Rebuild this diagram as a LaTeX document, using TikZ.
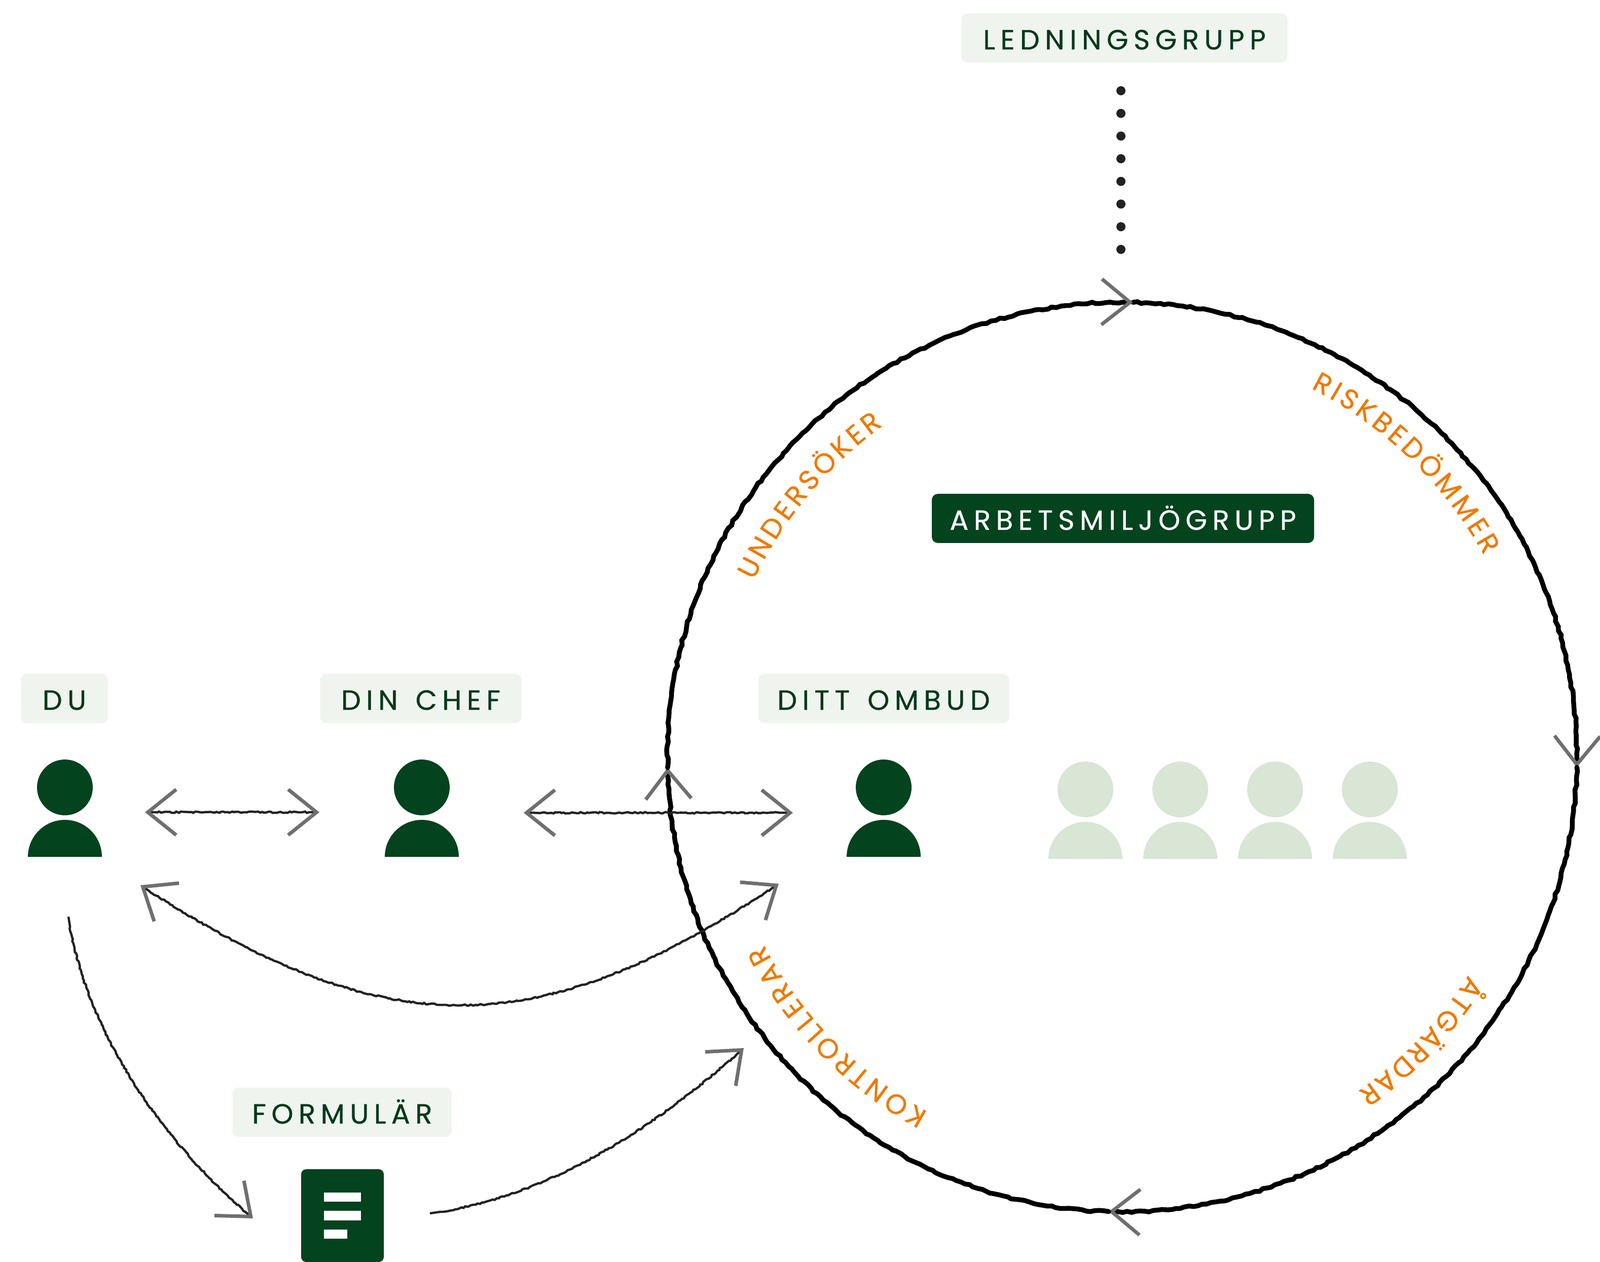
\documentclass[tikz,border=0pt]{standalone}
\usepackage{fontspec}
\newfontfamily\tagfont[LetterSpace=19,FakeBold=0.6,WordSpace=1.4]{Poppins}
\newfontfamily\ringfont[FakeBold=0.6]{Poppins}
\usetikzlibrary{%
  arrows.meta,%
  calc,%
  decorations.pathmorphing,% pencil lines
  decorations.text% ring words
}
\definecolor{darkgreen}{HTML}{03431E}
\definecolor{textgreen}{HTML}{06391A}
\definecolor{palegreen}{HTML}{EFF4EE}
\definecolor{fadegreen}{HTML}{D9E5D5}
\definecolor{ringorange}{HTML}{EE7A00}
\definecolor{pencil}{HTML}{222222}

\begin{document}
\begin{tikzpicture}[
  tag/.style={rectangle, minimum height=9.7mm, inner sep=0pt, text height=4.5mm, text depth=0pt, fill=palegreen, text=textgreen, rounded corners=1.2mm, font=\tagfont\fontsize{15.6}{17}\selectfont},
  darktag/.style={tag, fill=darkgreen, text=white},
  barb/.tip={Straight Barb[length=5.6mm, width=9mm, line width=0.7mm, color=pencil!65]},
  sketch/.style={draw=pencil, line width=0.45mm, decorate, decoration={random steps, segment length=1.2pt, amplitude=0.4pt, pre length=2mm, post length=2mm}},
  ring/.style={draw=black, line width=0.95mm, line cap=round, decorate, decoration={random steps, segment length=2.5pt, amplitude=0.5pt, post length=2mm}},
  ringword/.style={decorate, decoration={text along path, text={|\ringfont\fontsize{15.6}{17}\selectfont|#1}, text color=ringorange, text align=fit to path}},
  person/.pic={
    \fill (0,1.37) circle (0.55);
    \fill (-0.73,0) arc[start angle=180, end angle=0, radius=0.73] -- cycle;
  }
]
\useasboundingbox (0,0) rectangle (31.56,24.89);

% labels
\node[tag, minimum width=64.3mm] (ledning) at (22.18,24.14) {LEDNINGSGRUPP};
\node[darktag, minimum width=75.4mm] (arbets) at (22.15,14.665) {ARBETSMILJÖGRUPP};
\node[tag, minimum width=17.2mm] (du) at (1.27,11.115) {DU};
\node[tag, minimum width=39.7mm] (chef) at (8.30,11.115) {DIN CHEF};
\node[tag, minimum width=49.5mm] (ombud) at (17.43,11.115) {DITT OMBUD};
\node[tag, minimum width=43.3mm] (formular) at (6.75,2.955) {FORMULÄR};

% people
\pic[darkgreen] at (1.28,7.99) {person};
\pic[darkgreen] at (8.32,7.99) {person};
\pic[darkgreen] at (17.43,7.99) {person};
\foreach \x in {21.41,23.28,25.15,27.02} {
  \pic[fadegreen] at (\x,7.95) {person};
}

% form icon
\node[rectangle, fill=darkgreen, rounded corners=1mm, minimum width=16.3mm, minimum height=18.3mm, inner sep=0pt] (form) at (6.755,0.915) {};
\fill[white] (6.39,1.19) rectangle (7.12,1.37);
\fill[white] (6.39,0.82) rectangle (7.12,1.01);
\fill[white] (6.39,0.46) rectangle (6.85,0.64);

% ring
\coordinate (ringcentre) at (22.135,9.96);
\foreach \a/\b in {88.65/-1.3,-1.3/-91.7,-91.7/-178.65,-178.65/-271.35} {
  \draw[ring,-barb] ($(ringcentre)+(\a:8.97)$) arc[start angle=\a, end angle=\b, radius=8.97];
}

\path[ringword=RISKBEDÖMMER] ($(ringcentre)+(62.9:8.17)$) arc[start angle=62.9, end angle=29.1, radius=8.17];
\path[ringword=ÅTGÄRDAR] ($(ringcentre)+(-32.2:8.07)$) arc[start angle=-32.2, end angle=-54.9, radius=8.07];
\path[ringword=KONTROLLERAR] ($(ringcentre)+(-118.7:7.98)$) arc[start angle=-118.7, end angle=-152.4, radius=7.98];
\path[ringword=UNDERSÖKER] ($(ringcentre)+(154.4:8.06)$) arc[start angle=154.4, end angle=125.8, radius=8.06];

% connectors
\coordinate (dotstart) at (22.11,23.10);
\coordinate (dotend) at (22.11,19.97);
\draw[pencil, line width=1.8mm, line cap=round, dash pattern=on 0pt off 4.47mm] (dotstart) -- (dotend);

\coordinate (duright) at (2.86,8.87);
\coordinate (chefleft) at (6.30,8.87);
\coordinate (chefright) at (10.33,8.86);
\coordinate (ombudleft) at (15.64,8.86);
\coordinate (dulow) at (2.77,7.43);
\coordinate (ombudlow) at (15.36,7.46);
\coordinate (dudown) at (1.35,6.81);
\coordinate (formleft) at (4.99,0.86);
\coordinate (formright) at (8.48,0.96);
\coordinate (ombuddown) at (14.67,4.22);

\draw[sketch,barb-barb] (duright) -- (chefleft);
\draw[sketch,barb-barb] (chefright) -- (ombudleft);
\draw[sketch,barb-barb] (dulow) .. controls (7.60,4.27) and (10.60,4.27) .. (ombudlow);
\draw[sketch,-barb] (dudown) .. controls (1.70,4.39) and (3.40,2.19) .. (formleft);
\draw[sketch,-barb] (formright) .. controls (11.00,1.29) and (13.20,2.89) .. (ombuddown);

\end{tikzpicture}
\end{document}
